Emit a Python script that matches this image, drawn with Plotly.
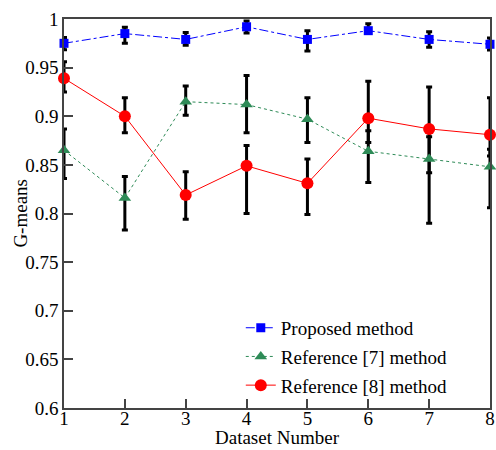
import plotly.graph_objects as go

datasets = [1, 2, 3, 4, 5, 6, 7, 8]

proposed = [0.975, 0.985, 0.979, 0.992, 0.979, 0.988, 0.979, 0.974]
proposed_err_plus = [0.006, 0.0065, 0.007, 0.006, 0.009, 0.007, 0.008, 0.0065]
proposed_err_minus = [0.0065, 0.010, 0.006, 0.0065, 0.012, 0.003, 0.008, 0.006]

ref7 = [0.865, 0.816, 0.915, 0.912, 0.897, 0.864, 0.856, 0.848]
ref7_err_plus = [0.022, 0.022, 0.016, 0.030, 0.022, 0.021, 0.023, 0.018]
ref7_err_minus = [0.029, 0.033, 0.014, 0.029, 0.024, 0.032, 0.066, 0.042]

ref8 = [0.939, 0.900, 0.819, 0.849, 0.831, 0.898, 0.887, 0.881]
ref8_err_plus = [0.017, 0.019, 0.024, 0.021, 0.025, 0.038, 0.043, 0.038]
ref8_err_minus = [0.014, 0.017, 0.025, 0.049, 0.032, 0.025, 0.045, 0.022]

y_ticks = [0.6, 0.65, 0.7, 0.75, 0.8, 0.85, 0.9, 0.95, 1.0]
y_tick_text = ["0.6", "0.65", "0.7", "0.75", "0.8", "0.85", "0.9", "0.95", "1"]

FONT = "Liberation Serif"

series = [
    ("Proposed method", proposed, proposed_err_plus, proposed_err_minus,
     "#0000FF", "dashdot", "square", 9),
    ("Reference [7] method", ref7, ref7_err_plus, ref7_err_minus,
     "#2E8B57", "dot", "triangle-up", 11),
    ("Reference [8] method", ref8, ref8_err_plus, ref8_err_minus,
     "#FF0000", "solid", "circle", 12),
]

fig = go.Figure()

# error bars first so markers stay on top
for name, vals, ep, em, color, dash, sym, size in series:
    fig.add_trace(go.Scatter(
        x=datasets, y=vals, mode="markers",
        marker=dict(size=1, opacity=0),
        error_y=dict(type="data", symmetric=False, array=ep, arrayminus=em,
                     color="black", thickness=3, width=3),
        showlegend=False, hoverinfo="skip", cliponaxis=False,
    ))

for i, (name, vals, ep, em, color, dash, sym, size) in enumerate(series):
    fig.add_trace(go.Scatter(
        x=datasets, y=vals, mode="lines+markers", name=name,
        legendgroup=f"g{i}",
        line=dict(color=color, width=1, dash=dash),
        marker=dict(symbol=sym, size=size, color=color),
        cliponaxis=False,
    ))

fig.update_layout(
    width=496, height=450,
    margin=dict(l=64, r=6, t=19, b=42),
    paper_bgcolor="white", plot_bgcolor="white",
    font=dict(family=FONT, size=19, color="black"),
    showlegend=True,
    legend=dict(x=0.415, y=0.008, xanchor="left", yanchor="bottom",
                bgcolor="rgba(0,0,0,0)", font=dict(size=19, family=FONT),
                tracegroupgap=1),
    annotations=[
        dict(text="G-means", textangle=-90, xref="paper", yref="paper",
             x=-0.103, y=0.5, xanchor="center", yanchor="middle",
             showarrow=False, font=dict(size=19, family=FONT)),
        dict(text="Dataset Number", xref="paper", yref="paper",
             x=0.5, y=-0.077, xanchor="center", yanchor="middle",
             showarrow=False, font=dict(size=19, family=FONT)),
    ],
)

fig.update_xaxes(
    range=[1, 8], tickvals=datasets, ticks="inside", ticklen=9, tickwidth=1.5,
    tickcolor="#444", showline=True, linecolor="#444", linewidth=1.5,
    mirror=True, showgrid=False, zeroline=False, automargin=False,
    ticklabelstandoff=-8, tickfont=dict(size=19, family=FONT),
)
fig.update_yaxes(
    range=[0.6, 1.0], tickvals=y_ticks, ticktext=y_tick_text, ticks="inside",
    ticklen=9, tickwidth=1.5, tickcolor="#444", showline=True,
    linecolor="#444", linewidth=1.5, mirror=True, showgrid=False,
    zeroline=False, automargin=False,
    tickfont=dict(size=19, family=FONT),
)

fig.write_html("out.html", config={"displayModeBar": False},
               post_script="document.body.style.margin='0';")
